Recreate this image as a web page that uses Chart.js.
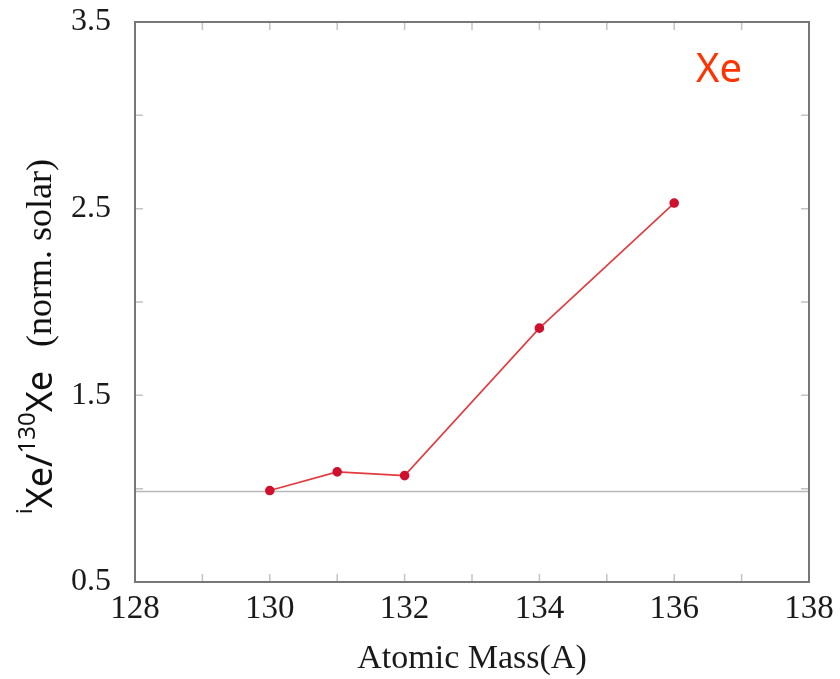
<!DOCTYPE html>
<html>
<head>
<meta charset="utf-8">
<title>Xe isotopes</title>
<script src="https://cdn.jsdelivr.net/npm/chart.js@4.4.0/dist/chart.umd.min.js"></script>
<style>
  html, body { margin: 0; padding: 0; background: #fff; }
  #wrap { width: 840px; height: 679px; position: relative; }
</style>
</head>
<body>
<div id="wrap"><canvas id="xeChart"></canvas></div>
<script>
// ---------- Dados ----------
const masses = [130, 131, 132, 134, 136];
const ratios = [0.99, 1.09, 1.07, 1.86, 2.53];
const solarLevel = 0.985;
const xLimits = [128, 138];
const yLimits = [0.5, 3.5];
const xLabelled = [128, 130, 132, 134, 136, 138];
const yLabelled = [0.5, 1.5, 2.5, 3.5];

const serif = '"Liberation Serif", "DejaVu Serif", serif';
const sans = '"Noto Sans", "Open Sans", sans-serif';

// ---------- Moldura, ticks internos e rótulos extras ----------
const frame = {
  id: 'frame',
  afterDraw(chart) {
    const { ctx, chartArea: a, scales } = chart;
    ctx.save();
    // ticks para dentro nos quatro lados
    ctx.strokeStyle = '#c4c4c4';
    ctx.lineWidth = 1.5;
    const tl = 8;
    scales.x.ticks.forEach(t => {
      const px = scales.x.getPixelForValue(t.value);
      ctx.beginPath();
      ctx.moveTo(px, a.bottom); ctx.lineTo(px, a.bottom - tl);
      ctx.moveTo(px, a.top); ctx.lineTo(px, a.top + tl);
      ctx.stroke();
    });
    scales.y.ticks.forEach(t => {
      const py = scales.y.getPixelForValue(t.value);
      ctx.beginPath();
      ctx.moveTo(a.left, py); ctx.lineTo(a.left + tl, py);
      ctx.moveTo(a.right, py); ctx.lineTo(a.right - tl, py);
      ctx.stroke();
    });
    // moldura
    ctx.strokeStyle = '#777';
    ctx.lineWidth = 2;
    ctx.strokeRect(a.left, a.top, a.right - a.left, a.bottom - a.top);

    // etiqueta do elemento
    ctx.fillStyle = '#ff3300';
    ctx.font = '40px ' + sans;
    ctx.textAlign = 'left';
    ctx.textBaseline = 'alphabetic';
    ctx.fillText('Xe', 696, 82);

    // título do eixo y, rotacionado
    ctx.translate(52, 514);
    ctx.rotate(-Math.PI / 2);
    ctx.fillStyle = '#111';
    let x = 0;
    const part = (txt, font, dy) => {
      ctx.font = font;
      ctx.fillText(txt, x, dy);
      x += ctx.measureText(txt).width;
    };
    part('i', '22px ' + sans, -20);
    part('Xe/', '36px ' + sans, 0);
    part('130', '24px ' + sans, -17);
    part('Xe', '36px ' + sans, 0);
    x += 24;
    part('(norm. solar)', '36px ' + serif, -1);
    ctx.restore();
  }
};

new Chart(document.getElementById('xeChart'), {
  type: 'scatter',
  data: {
    datasets: [
      {
        data: masses.map((m, i) => ({ x: m, y: ratios[i] })),
        showLine: true,
        borderColor: '#e23a3f',
        borderWidth: 1.6,
        pointBackgroundColor: '#d0102c',
        pointBorderColor: '#d0102c',
        pointRadius: 4,
        order: 0
      },
      {
        data: xLimits.map(m => ({ x: m, y: solarLevel })),
        showLine: true,
        borderColor: '#b8b8b8',
        borderWidth: 1.5,
        pointRadius: 0,
        order: 1
      }
    ]
  },
  options: {
    responsive: true,
    maintainAspectRatio: false,
    animation: false,
    layout: { padding: { top: 22, right: 31, bottom: 0, left: 0 } },
    plugins: { legend: { display: false }, tooltip: { enabled: false } },
    scales: {
      x: {
        type: 'linear',
        min: xLimits[0], max: xLimits[1],
        grid: { display: false },
        border: { display: false },
        ticks: {
          stepSize: 1,
          autoSkip: false,
          maxRotation: 0,
          padding: 0,
          color: '#1a1a1a',
          font: { family: serif, size: 33 },
          callback: v => xLabelled.includes(v) ? String(v) : ''
        },
        title: {
          display: true,
          text: 'Atomic Mass(A)',
          color: '#1a1a1a',
          font: { family: serif, size: 34 },
          padding: { top: 0, bottom: 0 }
        },
        afterFit: s => { s.height = 97; s.paddingLeft = 0; s.paddingRight = 0; }
      },
      y: {
        min: yLimits[0], max: yLimits[1],
        grid: { display: false },
        border: { display: false },
        ticks: {
          stepSize: 0.5,
          autoSkip: false,
          padding: 16,
          color: '#1a1a1a',
          font: { family: serif, size: 32 },
          callback: v => yLabelled.includes(v) ? v.toFixed(1) : ''
        },
        afterFit: s => { s.width = 135; s.paddingTop = 0; s.paddingBottom = 0; }
      }
    }
  },
  plugins: [frame]
});
</script>
</body>
</html>
